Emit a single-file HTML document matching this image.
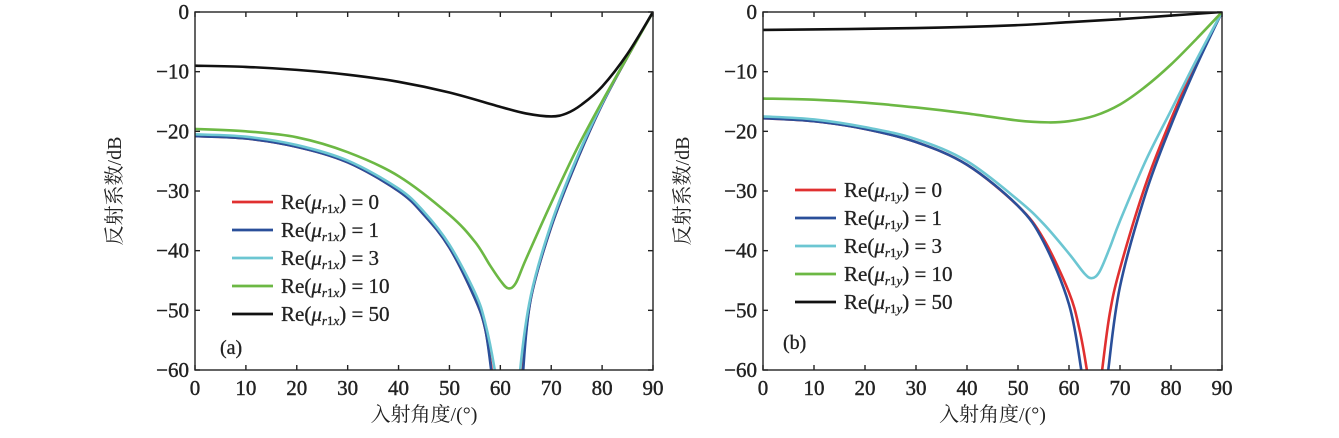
<!DOCTYPE html>
<html><head><meta charset="utf-8"><style>
body{margin:0;background:#fff}
svg text{font-family:"Liberation Serif","Noto Serif CJK SC",serif;fill:#222}
</style></head><body>
<svg id="c" width="1339" height="433" xmlns="http://www.w3.org/2000/svg"></svg>
<script>
const ticksX=[0,10,20,30,40,50,60,70,80,90];
const ticksY=[0,-10,-20,-30,-40,-50,-60];
const colors=["#e03030","#2a4f9a","#6cc6d2","#6cb844","#111111"];
const legendA=["0","1","3","10","50"];
const aAng0=[0,10,20,30,40,45,50,55,57,58.3,58.8,64.6,64.4,66,70,75,80,85,90];
const aVal0=[-20.8,-21.2,-22.6,-25.2,-30,-34,-39.5,-48,-53,-60,-64,-64,-60,-48,-36,-25,-15.5,-7.5,0];
const aAng1=[0,10,20,30,40,45,50,55,57,58.2,58.7,64.7,64.5,66,70,75,80,85,90];
const aVal1=[-20.8,-21.2,-22.6,-25.2,-30,-34,-39.5,-48,-53,-60,-64,-64,-60,-48,-36,-25,-15.5,-7.5,0];
const aAng2=[0,10,20,30,40,45,50,55,57,58.9,59.3,64.1,63.9,66,70,75,80,85,90];
const aVal2=[-20.5,-20.9,-22.3,-24.9,-29.6,-33.5,-39,-47,-52,-60,-64,-64,-60,-47.5,-35.5,-24.5,-15.3,-7.4,0];
const aAng3=[0,10,20,30,40,50,55,58,60,61.5,63,65,70,75,80,85,90];
const aVal3=[-19.6,-20,-21,-23.5,-27.5,-34,-38.5,-42.5,-45,-46.3,-45.5,-41.5,-32,-23,-15,-7.5,0];
const aAng4=[0,10,20,30,40,50,60,65,70,73,76,80,85,90];
const aVal4=[-9,-9.2,-9.7,-10.5,-11.7,-13.5,-15.9,-17,-17.5,-17,-15.5,-12.5,-7,0];
const bAng0=[0,10,20,30,40,50,55,60,62,63.5,64,66,66.5,68,70,75,80,85,90];
const bVal0=[-17.8,-18.3,-19.6,-21.8,-25.6,-32.5,-38,-47,-53,-60,-64,-64,-60,-50.5,-43,-29,-18,-8.5,0];
const bAng1=[0,10,20,30,40,50,55,60,62.4,62.8,67.3,67.7,70,75,80,85,90];
const bVal1=[-17.8,-18.3,-19.6,-21.8,-25.6,-32.5,-38.5,-49,-60,-64,-64,-60,-46,-30.5,-19,-9,0];
const bAng2=[0,10,20,30,40,50,55,60,63,64.5,66,68,70,75,80,85,90];
const bVal2=[-17.5,-18,-19.3,-21.3,-25,-31.5,-35.5,-40.5,-43.8,-44.6,-43.5,-39.5,-35,-25,-16.5,-8,0];
const bAng3=[0,10,20,30,40,50,56,60,65,70,75,80,85,90];
const bVal3=[-14.5,-14.7,-15.2,-16,-17,-18.2,-18.5,-18.3,-17.4,-15.5,-12.5,-8.8,-4.5,0];
const bAng4=[0,30,50,60,70,80,90];
const bVal4=[-3,-2.7,-2.2,-1.7,-1.2,-0.6,0];

const NS="http://www.w3.org/2000/svg";
const svg=document.getElementById('c');
function mk(t,a,p){const e=document.createElementNS(NS,t);for(const k in a)e.setAttribute(k,a[k]);(p||svg).appendChild(e);return e;}
function spline(pts){let d="M"+pts[0][0]+","+pts[0][1];for(let i=0;i<pts.length-1;i++){const p0=pts[Math.max(0,i-1)],p1=pts[i],p2=pts[i+1],p3=pts[Math.min(pts.length-1,i+2)];const c1x=p1[0]+(p2[0]-p0[0])/6,c1y=p1[1]+(p2[1]-p0[1])/6,c2x=p2[0]-(p3[0]-p1[0])/6,c2y=p2[1]-(p3[1]-p1[1])/6;d+=" C"+c1x+","+c1y+" "+c2x+","+c2y+" "+p2[0]+","+p2[1];}return d;}

function panel(id,L,R,T,B,series,sub,legX,legY,lab,labX,labY){
  const sx=v=>L+(v/90)*(R-L), sy=v=>T+(-v/60)*(B-T);
  const g=mk('g',{});
  
  
  const cp=mk('clipPath',{id:'clip'+id},g);mk('rect',{x:L,y:T,width:R-L,height:B-T},cp);
  ticksX.forEach(v=>{const x=sx(v);
    mk('line',{x1:x,y1:B,x2:x,y2:B-5,stroke:'#222','stroke-width':1.4},g);
    mk('line',{x1:x,y1:T,x2:x,y2:T+5,stroke:'#222','stroke-width':1.4},g);
    const t=mk('text',{x:x,y:B+25,'text-anchor':'middle','font-size':21,'stroke':'#222','stroke-width':0.4},g);t.textContent=v;
    });
  ticksY.forEach(v=>{const y=sy(v);
    mk('line',{x1:L,y1:y,x2:L+5,y2:y,stroke:'#222','stroke-width':1.4},g);
    mk('line',{x1:R,y1:y,x2:R-5,y2:y,stroke:'#222','stroke-width':1.4},g);
    const t=mk('text',{x:L-6,y:y+7,'text-anchor':'end','font-size':21,'stroke':'#222','stroke-width':0.4},g);
    t.textContent=v===0?"0":"\u2212"+(-v);
    });
  const lg=mk('g',{'clip-path':'url(#clip'+id+')'},g);
  series.forEach((s,i)=>{const pts=s[0].map((a,j)=>[sx(a),sy(s[1][j])]);
    const p=mk('path',{d:spline(pts),fill:'none',stroke:colors[i],'stroke-width':2.6},lg);
    });
  mk('rect',{x:L,y:T,width:R-L,height:B-T,fill:'none',stroke:'#222','stroke-width':1.4},g);
  legendA.forEach((v,i)=>{const y=legY+i*28;
    const ln=mk('line',{x1:legX,y1:y,x2:legX+41,y2:y,stroke:colors[i],'stroke-width':2.8},g);
    
    const t=mk('text',{x:legX+49,y:y+7,'font-size':21,'stroke':'#222','stroke-width':0.3},g);
    t.innerHTML='Re(<tspan font-style="italic">μ</tspan><tspan font-size="13" dy="4"><tspan font-style="italic">r</tspan>1<tspan font-style="italic">'+sub+'</tspan></tspan><tspan dy="-4">) = '+v+'</tspan>';
    });
  const pl=mk('text',{x:labX,y:labY,'font-size':20,'stroke':'#222','stroke-width':0.3},g);pl.textContent=lab;
  
  const xl=mk('text',{x:(L+R)/2,y:421,'text-anchor':'middle','font-size':20},g);xl.textContent='入射角度/(°)';
  
  const yl=mk('text',{x:0,y:0,'text-anchor':'middle','font-size':20,transform:'translate('+(L-74)+','+((T+B)/2)+') rotate(-90)'},g);yl.textContent='反射系数/dB';
  
}
panel('a',195,653,12,370,[[aAng0,aVal0],[aAng1,aVal1],[aAng2,aVal2],[aAng3,aVal3],[aAng4,aVal4]],'x',232,202,'(a)',220,354);
panel('b',763,1222,12,370,[[bAng0,bVal0],[bAng1,bVal1],[bAng2,bVal2],[bAng3,bVal3],[bAng4,bVal4]],'y',795,190,'(b)',783,349);
</script>
</body></html>
